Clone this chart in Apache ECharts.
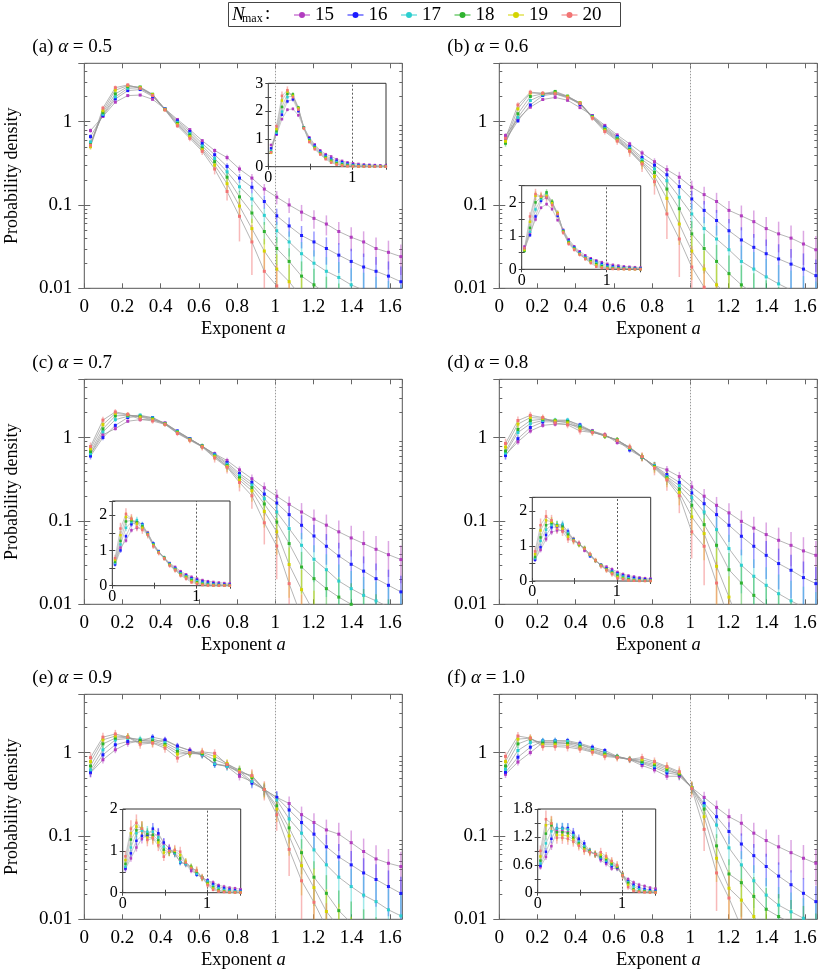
<!DOCTYPE html>
<html><head><meta charset="utf-8">
<script src="https://cdn.jsdelivr.net/npm/echarts@6/dist/echarts.min.js"></script>
<style>html,body{margin:0;padding:0;background:#fff}#c{width:830px;height:972px}</style>
</head><body><div id="c"></div><script>
// ---------------- data ----------------
const xValues = [0.0325,0.0975,0.1625,0.2275,0.2925,0.3575,0.4225,0.4875,0.5525,0.6175,0.6825,0.7475,0.8125,0.8775,0.9425,1.0075,1.0725,1.1375,1.2025,1.2675,1.3325,1.3975,1.4625,1.5275,1.5925,1.6575];
const nMax = ['15','16','17','18','19','20'];
const panelTags = ['(a)','(b)','(c)','(d)','(e)','(f)'];
const alphaValues = ['0.5','0.6','0.7','0.8','0.9','1.0'];
const logMinorTicks = [0.02,0.03,0.04,0.05,0.06,0.07,0.08,0.09,0.2,0.3,0.4,0.5,0.6,0.7,0.8,0.9,2,3,4,5];

// probability density, panel (a) alpha=0.5
const a15 = [.78,1.15,1.71,2.05,2.08, 1.85,1.42,1.06,.80,.59, .45,.37,.27,.21,.155, .124,.100,.082,.069,.059, .048,.041,.036,.030,.027, .024];
const a16 = [.66,1.18,1.87,2.35,2.42, 2.0,1.42,1.02,.76,.545, .40,.29,.21,.163,.11, .074,.056,.043,.036,.030, .025,.021,.018,.016,.014, .012];
const a17 = [.57,1.22,1.98,2.5,2.55, 2.1,1.41,.98,.72,.51, .36,.25,.165,.118,.075, .049,.036,.026,.020,.016, .0135,.011,.0095,.0083,.0072, .0063];
const a18 = [.53,1.28,2.15,2.62,2.6, 2.13,1.40,.95,.69,.48, .33,.215,.125,.08,.048, .030,.021,.014,.011,.0085, .0068,.0055,.0045,.0038,.0032, .0027];
const a19 = [.50,1.35,2.38,2.7,2.55, 2.1,1.39,.92,.66,.46, .30,.18,.097,.052,.028, .017,.012,.0078,.0055,.004, .003,.0024,.0019,.0015,.0012, .001];
const a20 = [.52,1.45,2.55,2.75,2.5, 2.05,1.38,.89,.63,.44, .27,.145,.073,.036,.016, .0107,.0065,.004,.0028,.002, .0015,.0011,.0008,.0006,.0005, .0004];
// panel (b) alpha=0.6
const b15 = [.68,1.08,1.49,1.84,1.95, 1.8,1.47,1.18,.90,.69, .54,.42,.33,.265,.215, .163,.133,.11,.086,.074, .063,.052,.045,.040,.034, .029];
const b16 = [.60,1.02,1.58,2.05,2.15, 1.98,1.6,1.16,.86,.66, .50,.37,.30,.23,.166, .118,.086,.065,.049,.038, .031,.026,.0225,.0195,.017, .0142];
const b17 = [.57,1.12,1.79,2.1,2.25, 2.0,1.65,1.15,.83,.64, .48,.35,.27,.195,.124, .078,.052,.039,.029,.021, .017,.0137,.0113,.0095,.008, .0068];
const b18 = [.55,1.24,2.0,2.15,2.3, 2.02,1.67,1.14,.81,.62, .46,.33,.245,.155,.09, .045,.030,.021,.015,.011, .0085,.0068,.0055,.0045,.0038, .003];
const b19 = [.58,1.42,2.2,2.17,2.2, 1.98,1.68,1.12,.79,.60, .45,.32,.22,.12,.059, .028,.017,.011,.008,.0055, .004,.003,.0024,.0019,.0015, .0012];
const b20 = [.63,1.58,2.25,2.19,2.15, 1.92,1.65,1.10,.76,.585, .44,.31,.19,.078,.039, .018,.0103,.006,.004,.0025, .0018,.0013,.001,.0008,.0006, .0005];
// panel (c) alpha=0.7
const c15 = [.63,1.08,1.28,1.57,1.64, 1.64,1.5,1.18,.97,.78, .64,.53,.41,.32,.25, .198,.158,.128,.105,.089, .074,.0625,.0535,.0457,.0394, .0344];
const c16 = [.60,1.0,1.4,1.74,1.8, 1.74,1.48,1.2,.97,.79, .63,.50,.37,.29,.21, .164,.119,.0887,.066,.0497, .038,.0302,.025,.0203,.0169, .0141];
const c17 = [.64,1.17,1.64,1.8,1.86, 1.72,1.47,1.18,.96,.79, .62,.48,.35,.27,.185, .128,.081,.051,.0347,.026, .019,.0154,.0128,.011,.0093, .008];
const c18 = [.68,1.27,1.82,1.85,1.8, 1.68,1.46,1.16,.95,.79, .60,.46,.33,.25,.16, .097,.0535,.028,.0203,.0154, .0122,.010,.0083,.007,.006, .005];
const c19 = [.73,1.43,1.95,1.88,1.76, 1.64,1.45,1.14,.94,.78, .59,.45,.31,.23,.13, .074,.030,.015,.008,.005, .0035,.0025,.0018,.0013,.001, .0008];
const c20 = [.78,1.62,2.03,1.9,1.66, 1.58,1.44,1.12,.93,.77, .57,.44,.29,.20,.095, .050,.0177,.007,.003,.0015, .001,.0007,.0005,.0004,.0003, .0002];
// panel (d) alpha=0.8
const d15 = [.62,.89,1.2,1.4,1.45, 1.45,1.35,1.2,1.08,.87, .76,.58,.46,.41,.34, .256,.198,.154,.125,.099, .082,.0686,.0586,.051,.0437, .0387];
const d16 = [.61,.97,1.32,1.54,1.55, 1.6,1.42,1.19,1.06,.92, .71,.58,.46,.36,.29, .217,.161,.119,.0887,.0655, .0497,.0387,.0308,.0256,.0209, .0177];
const d17 = [.65,1.15,1.47,1.6,1.62, 1.62,1.38,1.18,1.05,.94, .74,.58,.46,.34,.265, .19,.128,.0787,.0466,.0294, .0217,.0169,.0134,.011,.0092, .0078];
const d18 = [.69,1.25,1.6,1.66,1.6, 1.56,1.33,1.17,1.04,.94, .75,.585,.45,.33,.24, .154,.0904,.051,.026,.018, .0128,.0097,.0075,.006,.005, .004];
const d19 = [.77,1.45,1.74,1.7,1.58, 1.5,1.27,1.16,1.05,.93, .76,.59,.44,.32,.22, .112,.0705,.0286,.0122,.005, .003,.002,.0015,.001,.0008, .0006];
const d20 = [.85,1.6,1.85,1.74,1.5, 1.42,1.2,1.15,1.07,.92, .77,.59,.43,.31,.20, .074,.0497,.018,.0065,.003, .0018,.0012,.0008,.0006,.0005, .0004];
// panel (e) alpha=0.9
const e15 = [.57,.82,1.08,1.29,1.38, 1.36,1.4,1.18,1.07,.93, .74,.68,.52,.45,.36, .29,.245,.18,.145,.118, .105,.083,.065,.053,.047, .043];
const e16 = [.58,.94,1.24,1.36,1.36, 1.53,1.42,1.2,1.05,.95, .72,.70,.57,.43,.36, .29,.205,.145,.105,.074, .056,.045,.036,.030,.0247, .0205];
const e17 = [.62,1.08,1.42,1.48,1.45, 1.45,1.32,1.1,1.0,.94, .73,.68,.60,.45,.36, .27,.16,.108,.068,.045, .032,.0247,.0195,.0163,.013, .011];
const e18 = [.69,1.27,1.49,1.53,1.40, 1.38,1.25,1.03,.97,.97, .82,.72,.62,.50,.36, .23,.125,.063,.032,.0205, .0127,.009,.007,.0055,.0045, .0037];
const e19 = [.78,1.42,1.58,1.54,1.32, 1.32,1.2,.96,.98,1.0, .9,.74,.60,.52,.36, .21,.10,.044,.024,.0124, .008,.0055,.004,.003,.0024, .002];
const e20 = [.87,1.53,1.67,1.53,1.26, 1.3,1.13,.86,1.0,1.02, .98,.72,.58,.53,.36, .18,.069,.029,.016,.008, .004,.0025,.0018,.0013,.001, .0008];
// panel (f) alpha=1.0
const f15 = [.55,.77,1.0,1.32,1.33, 1.3,1.25,1.13,1.0,.88, .82,.70,.62,.52,.52, .38,.29,.22,.17,.142, .108,.088,.074,.063,.054, .047];
const f16 = [.58,.88,1.16,1.38,1.39, 1.39,1.29,1.16,1.06,.90, .83,.74,.66,.57,.54, .38,.246,.17,.113,.08, .058,.043,.033,.026,.0205, .0163];
const f17 = [.63,1.06,1.32,1.38,1.38, 1.36,1.24,1.10,1.0,.90, .83,.76,.69,.60,.56, .38,.23,.135,.072,.045, .029,.0195,.0148,.0123,.0103, .0087];
const f18 = [.69,1.27,1.45,1.3,1.3, 1.28,1.18,1.06,.96,.89, .83,.78,.72,.63,.55, .38,.21,.076,.035,.0275, .0188,.0132,.0108,.009,.0075, .006];
const f19 = [.78,1.45,1.49,1.24,1.24, 1.22,1.14,1.03,.93,.88, .83,.82,.75,.66,.57, .38,.17,.054,.0236,.017, .0108,.007,.005,.0038,.003, .0024];
const f20 = [.90,1.58,1.49,1.18,1.18, 1.16,1.10,1.01,.90,.87, .83,.87,.78,.68,.59, .37,.12,.036,.018,.008, .004,.0025,.0018,.0013,.001, .0008];

// relative error bars (percent)
const eA15 = [6,4,3,3,3, 3,3,3,4,5, 6,8,10,12,15, 18,20,22,25,27, 30,32,34,36,38, 40];
const eA16 = [7,4,3,3,3, 3,3,4,4,5, 7,9,12,15,18, 22,26,30,33,36, 39,42,45,48,50, 52];
const eA17 = [7,5,4,3,3, 3,3,4,5,6, 8,11,14,18,23, 28,33,38,43,48, 53,58,62,66,70, 74];
const eA18 = [8,5,4,4,3, 3,4,4,5,7, 9,13,18,24,30, 37,44,50,56,62, 68,74,80,85,90, 92];
const eA19 = [8,6,5,4,4, 4,4,5,6,8, 11,16,23,31,40, 50,60,70,80,88, 92,95,95,95,95, 95];
const eA20 = [9,7,6,5,5, 5,5,6,8,10, 14,22,50,60,70, 80,90,95,95,95, 95,95,95,95,95, 95];
const eB15 = [7,5,4,3,3, 3,3,4,4,5, 6,8,10,13,16, 20,24,27,30,33, 36,38,40,42,44, 46];
const eB16 = [8,5,4,4,3, 3,4,4,5,6, 7,9,12,16,20, 25,30,34,38,42, 45,48,50,52,54, 56];
const eB17 = [8,6,5,4,4, 4,4,5,5,6, 8,11,15,20,26, 32,38,44,50,55, 60,64,68,72,75, 78];
const eB18 = [9,6,5,5,4, 4,4,5,6,7, 9,13,19,26,34, 42,50,58,65,72, 78,84,88,90,92, 94];
const eB19 = [9,7,6,5,5, 5,5,6,7,8, 11,16,24,33,44, 55,66,76,85,90, 94,95,95,95,95, 95];
const eB20 = [10,8,7,6,6, 6,6,7,8,10, 14,20,30,50,65, 78,88,95,95,95, 95,95,95,95,95, 95];
const eC15 = [8,6,5,4,4, 4,4,4,5,5, 6,8,10,13,16, 20,24,28,31,34, 37,40,42,44,46, 48];
const eC16 = [9,7,5,5,4, 4,4,5,5,6, 7,9,12,15,19, 24,28,32,36,40, 44,47,50,52,54, 56];
const eC17 = [9,7,6,5,5, 5,5,5,6,7, 8,11,14,18,23, 29,35,41,47,53, 58,63,67,71,74, 77];
const eC18 = [10,8,6,6,5, 5,5,6,6,7, 9,12,16,21,28, 36,44,52,60,67, 73,79,84,88,91, 93];
const eC19 = [10,8,7,6,6, 6,6,6,7,8, 10,14,19,26,36, 47,60,72,82,90, 94,95,95,95,95, 95];
const eC20 = [12,10,8,7,7, 7,7,7,8,9, 12,16,22,30,45, 60,75,88,95,95, 95,95,95,95,95, 95];
const eD15 = [10,8,7,6,6, 6,6,6,6,6, 7,8,9,11,14, 18,22,26,30,34, 37,40,42,44,46, 48];
const eD16 = [11,9,7,6,6, 6,6,6,6,7, 7,8,10,13,17, 22,27,32,37,41, 45,48,51,54,56, 58];
const eD17 = [11,9,8,7,7, 7,7,7,7,7, 8,9,12,15,20, 26,33,40,47,54, 60,65,70,74,77, 80];
const eD18 = [12,10,8,8,7, 7,7,7,7,8, 8,10,13,18,24, 32,41,50,59,67, 74,80,85,89,92, 94];
const eD19 = [12,10,9,8,8, 8,8,8,8,8, 9,11,15,21,30, 40,52,65,78,88, 93,95,95,95,95, 95];
const eD20 = [14,12,10,9,9, 9,9,9,9,9, 10,13,18,26,38, 52,66,80,92,95, 95,95,95,95,95, 95];
const eE15 = [12,10,9,9,9, 9,9,9,9,9, 9,10,11,12,14, 17,21,25,29,33, 37,40,43,46,48, 50];
const eE16 = [12,10,9,9,9, 9,9,9,9,9, 9,10,11,13,15, 19,24,29,34,39, 43,47,50,53,56, 58];
const eE17 = [13,11,10,10,10, 10,10,10,10,10, 10,11,12,14,17, 22,28,35,42,49, 56,62,67,72,76, 80];
const eE18 = [13,11,10,10,10, 10,10,10,10,10, 10,11,13,15,19, 26,35,45,55,65, 74,82,88,92,94, 95];
const eE19 = [14,12,11,11,11, 11,11,11,11,11, 11,12,14,17,22, 30,42,56,70,84, 92,95,95,95,95, 95];
const eE20 = [15,13,12,12,12, 12,12,12,12,12, 12,13,15,19,26, 36,52,70,86,95, 95,95,95,95,95, 95];
const eF15 = [10,9,8,8,8, 8,8,7,7,7, 7,8,9,10,11, 13,17,21,25,29, 33,36,39,42,44, 46];
const eF16 = [10,9,8,8,8, 8,8,8,7,7, 7,8,9,10,12, 14,19,24,29,34, 38,42,46,49,52, 54];
const eF17 = [11,10,9,9,9, 9,8,8,8,8, 8,8,9,10,12, 15,22,30,38,46, 53,60,65,70,74, 78];
const eF18 = [11,10,9,9,9, 9,9,8,8,8, 8,9,10,11,13, 16,26,38,50,61, 71,80,86,90,93, 95];
const eF19 = [12,11,10,10,10, 10,9,9,9,9, 9,10,11,12,14, 18,32,48,64,80, 90,95,95,95,95, 95];
const eF20 = [13,12,11,11,11, 11,10,10,10,10, 10,11,12,13,16, 22,45,65,85,95, 95,95,95,95,95, 95];

// inset y-axis ranges
const insetYMax = [3, 2.5, 2.4, 2.4, 2, 1.8];
const insetYMinorStep = [0.5, 0.5, 0.5, 0.5, 0.5, 0.3];
const insetYLabelStep = [1, 1, 1, 1, 1, 0.6];

// ---------------- styling / layout ----------------
const FONT = "'Liberation Serif','Times New Roman',serif";
const colors = ['#b23cc0', '#1c1cff', '#2ccfcf', '#2fb32f', '#d4d400', '#f27474'];
const errColors = ['rgba(178,60,192,0.45)', 'rgba(28,28,255,0.45)', 'rgba(44,207,207,0.45)', 'rgba(47,179,47,0.45)', 'rgba(212,212,0,0.5)', 'rgba(242,116,116,0.5)'];
const colLeft = [84.3, 499.3];
const rowTop = [63.3, 379.3, 694.3];
const MAIN_W = 318, MAIN_H = 225;
const insetBox = [[268.3, 83.3, 117.7, 83.4], [521.7, 185.7, 119, 83.6], [112.3, 501, 117.7, 84.7],
                  [532.3, 497.3, 118.4, 83.7], [122.7, 809, 118, 83.7], [537.7, 809, 118, 83.7]];

const panelVals = [[a15,a16,a17,a18,a19,a20],[b15,b16,b17,b18,b19,b20],[c15,c16,c17,c18,c19,c20],
                   [d15,d16,d17,d18,d19,d20],[e15,e16,e17,e18,e19,e20],[f15,f16,f17,f18,f19,f20]];
const panelErrs = [[eA15,eA16,eA17,eA18,eA19,eA20],[eB15,eB16,eB17,eB18,eB19,eB20],[eC15,eC16,eC17,eC18,eC19,eC20],
                   [eD15,eD16,eD17,eD18,eD19,eD20],[eE15,eE16,eE17,eE18,eE19,eE20],[eF15,eF16,eF17,eF18,eF19,eF20]];

const fmtMultiple = step => v => { const r = v / step; return Math.abs(r - Math.round(r)) < 1e-6 ? String(Number(v.toFixed(6))) : ''; };
const fmtLog = v => { const l = Math.log10(v); return Math.abs(l - Math.round(l)) < 1e-6 ? String(Number(v.toPrecision(4))) : ''; };

function errRender(isLog) {
  return function (params, api) {
    const cs = params.coordSys;
    const x = api.value(0);
    let lo = api.value(2), hi = api.value(3);
    if (isLog) lo = Math.max(lo, 1e-9); else lo = Math.max(lo, 0);
    const p1 = api.coord([x, hi]), p2 = api.coord([x, lo]);
    const r = echarts.graphic.clipRectByRect({ x: p1[0] - 0.75, y: p1[1], width: 1.5, height: p2[1] - p1[1] },
      { x: cs.x, y: cs.y, width: cs.width, height: cs.height });
    if (!r || r.width <= 0 || r.height <= 0) return null;
    return { type: 'rect', shape: r, style: { fill: api.visual('color') } };
  };
}
function minorTickRender(params, api) {
  const cs = params.coordSys;
  const y = Math.round(api.coord([0, api.value(1)])[1]) + 0.5;
  return { type: 'group', children: [
    { type: 'line', shape: { x1: cs.x, y1: y, x2: cs.x + 3, y2: y }, style: { stroke: '#666', lineWidth: 1 } },
    { type: 'line', shape: { x1: cs.x + cs.width - 3, y1: y, x2: cs.x + cs.width, y2: y }, style: { stroke: '#666', lineWidth: 1 } }
  ] };
}

const grid = [], xAxis = [], yAxis = [], series = [], graphic = [];

for (let p = 0; p < 6; p++) {
  const col = p % 2, row = Math.floor(p / 2);
  const gMain = 2 * p, gIn = 2 * p + 1;
  grid.push({ left: colLeft[col], top: rowTop[row], width: MAIN_W, height: MAIN_H, show: true,
    borderColor: '#555', borderWidth: 1, backgroundColor: 'transparent', outerBoundsMode: 'none', z: 0 });
  const ib = insetBox[p];
  grid.push({ left: ib[0], top: ib[1], width: ib[2], height: ib[3], show: true,
    borderColor: '#333', borderWidth: 1, backgroundColor: '#fff', outerBoundsMode: 'none', z: 5 });

  // main axes
  const mainX = (pos, lab) => ({ type: 'value', gridIndex: gMain, position: pos, min: 0, max: 1.665, interval: 0.2,
    axisLine: { show: false }, splitLine: { show: false },
    axisTick: { show: true, inside: true, length: 5, lineStyle: { color: '#666' } },
    axisLabel: { show: lab, fontFamily: FONT, fontSize: 19, color: '#000', margin: 9, formatter: fmtMultiple(0.2) } });
  xAxis.push(mainX('bottom', true), mainX('top', false));
  const mainY = (pos, lab) => ({ type: 'log', logBase: 10, gridIndex: gMain, position: pos, min: 0.01, max: 5,
    axisLine: { show: false }, splitLine: { show: false }, minorTick: { show: false },
    axisTick: { show: true, inside: true, length: 6, lineStyle: { color: '#666' } },
    axisLabel: { show: lab, fontFamily: FONT, fontSize: 19, color: '#000', margin: 12, formatter: fmtLog, showMaxLabel: false } });
  yAxis.push(mainY('left', true), mainY('right', false));
  // inset axes
  const inX = (pos, lab) => ({ type: 'value', gridIndex: gIn, position: pos, min: 0, max: 1.4, interval: 0.5, z: 6,
    axisLine: { show: false }, splitLine: { show: false },
    axisTick: { show: true, inside: true, length: 3, lineStyle: { color: '#444' } },
    axisLabel: { show: lab, fontFamily: FONT, fontSize: 16, color: '#000', margin: 3, formatter: fmtMultiple(1) } });
  xAxis.push(inX('bottom', true), inX('top', false));
  const inY = (pos, lab) => ({ type: 'value', gridIndex: gIn, position: pos, min: 0, max: insetYMax[p], interval: insetYMinorStep[p], z: 6,
    axisLine: { show: false }, splitLine: { show: false },
    axisTick: { show: true, inside: true, length: 3, lineStyle: { color: '#444' } },
    axisLabel: { show: lab, fontFamily: FONT, fontSize: 16, color: '#000', margin: 5, formatter: fmtMultiple(insetYLabelStep[p]) } });
  yAxis.push(inY('left', true), inY('right', false));

  const xiMain = 2 * gMain, xiIn = 2 * gIn;
  // log minor ticks
  series.push({ type: 'custom', name: 'minor', xAxisIndex: xiMain, yAxisIndex: xiMain, silent: true, z: 1,
    renderItem: minorTickRender, data: logMinorTicks.map(v => [0, v]), encode: { x: 0, y: 1 } });

  for (let i = 0; i < 6; i++) {
    const vals = panelVals[p][i], errs = panelErrs[p][i];
    const errData = xValues.map((x, k) => [x, vals[k], vals[k] * (1 - errs[k] / 100), vals[k] * (1 + errs[k] / 100)]);
    const lineData = xValues.map((x, k) => [x, vals[k]]);
    // main
    series.push({ type: 'custom', name: nMax[i], xAxisIndex: xiMain, yAxisIndex: xiMain, silent: true, z: 2,
      renderItem: errRender(true), itemStyle: { color: errColors[i] }, data: errData, encode: { x: 0, y: 1 } });
    const mainLine = { type: 'line', name: nMax[i], xAxisIndex: xiMain, yAxisIndex: xiMain, data: lineData, z: 3,
      symbol: 'rect', symbolSize: 3, showSymbol: true, clip: true, silent: true,
      lineStyle: { color: '#969696', width: 0.7 }, itemStyle: { color: colors[i] } };
    if (i === 0) mainLine.markLine = { silent: true, symbol: 'none', label: { show: false },
      lineStyle: { color: '#9a9a9a', type: [1.5, 1.5], width: 1 }, data: [{ xAxis: 1 }] };
    series.push(mainLine);
    // inset
    series.push({ type: 'custom', name: nMax[i], xAxisIndex: xiIn, yAxisIndex: xiIn, silent: true, z: 7,
      renderItem: errRender(false), itemStyle: { color: errColors[i] }, data: errData, encode: { x: 0, y: 1 } });
    const inLine = { type: 'line', name: nMax[i], xAxisIndex: xiIn, yAxisIndex: xiIn, data: lineData, z: 8,
      symbol: 'rect', symbolSize: 2.5, showSymbol: true, clip: true, silent: true,
      lineStyle: { color: '#a8a8a8', width: 0.6 }, itemStyle: { color: colors[i] } };
    if (i === 0) inLine.markLine = { silent: true, symbol: 'none', label: { show: false },
      lineStyle: { color: '#333', type: [2, 2], width: 0.8 }, data: [{ xAxis: 1 }] };
    series.push(inLine);
  }

  // panel title
  const top = rowTop[row];
  graphic.push({ type: 'text', x: colLeft[col] - 52, y: top - 16.6, z: 20,
    style: { text: '{r|' + panelTags[p] + ' }{i|α}{r| = ' + alphaValues[p] + '}', verticalAlign: 'middle',
      rich: { r: { fontFamily: FONT, fontSize: 19, fill: '#000' }, i: { fontFamily: FONT, fontSize: 19, fontStyle: 'italic', fill: '#000' } } } });
  // x axis name
  graphic.push({ type: 'text', x: colLeft[col] + MAIN_W / 2, y: top + MAIN_H + 41, z: 20,
    style: { text: '{r|Exponent }{i|a}', align: 'center', verticalAlign: 'middle',
      rich: { r: { fontFamily: FONT, fontSize: 18.5, fill: '#000' }, i: { fontFamily: FONT, fontSize: 18.5, fontStyle: 'italic', fill: '#000' } } } });
  // y axis name
  if (col === 0) graphic.push({ type: 'text', x: 12, y: top + MAIN_H / 2, rotation: Math.PI / 2, z: 20,
    style: { text: 'Probability density', align: 'center', verticalAlign: 'middle', fontFamily: FONT, fontSize: 18, fill: '#000' } });
}

// legend frame and label
graphic.push({ type: 'rect', shape: { x: 228.5, y: 2.5, width: 392, height: 24 }, z: 20,
  style: { fill: 'none', stroke: '#444', lineWidth: 1 } });
graphic.push({ type: 'text', x: 232, y: 14.5, z: 21, style: { text: 'N', fontFamily: FONT, fontSize: 19, fontStyle: 'italic', verticalAlign: 'middle', fill: '#000' } });
graphic.push({ type: 'text', x: 242, y: 19, z: 21, style: { text: 'max', fontFamily: FONT, fontSize: 12, verticalAlign: 'middle', fill: '#000' } });
graphic.push({ type: 'text', x: 265, y: 14.5, z: 21, style: { text: ':', fontFamily: FONT, fontSize: 19, verticalAlign: 'middle', fill: '#000' } });

const legendIcon = 'path://M0,3.5L16,3.5L16,4.5L0,4.5Z M8,1A3,3,0,1,1,8,7A3,3,0,1,1,8,1Z';
const option = {
  animation: false,
  backgroundColor: '#fff',
  textStyle: { fontFamily: FONT },
  legend: { left: 294, top: 5.5, padding: 0, itemWidth: 16, itemHeight: 8, itemGap: 13.5, selectedMode: false,
    textStyle: { fontFamily: FONT, fontSize: 19, color: '#000' },
    data: nMax.map((n, i) => ({ name: n, icon: legendIcon, itemStyle: { color: colors[i], borderWidth: 0 } })) },
  grid, xAxis, yAxis, series, graphic
};
const chart = echarts.init(document.getElementById('c'), null, { renderer: 'canvas' });
chart.setOption(option);
</script></body></html>
